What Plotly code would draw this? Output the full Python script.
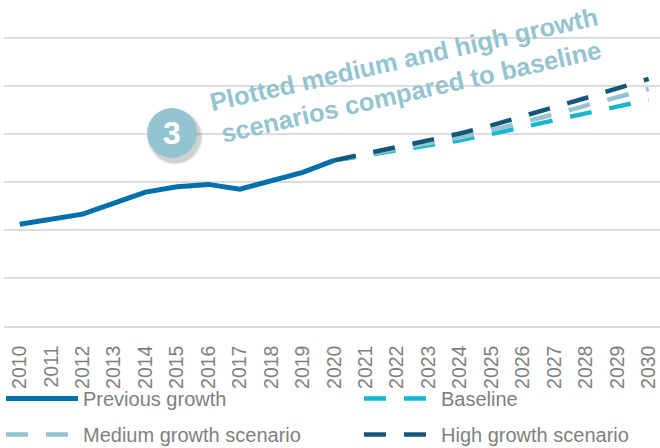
import plotly.graph_objects as go

# Years on the x axis
hist_years = list(range(2010, 2021))
proj_years = list(range(2020, 2031))

# Series values
previous_growth = [21.2, 22.3, 23.3, 25.6, 27.9, 29.0, 29.5, 28.5, 30.3, 32.0, 34.5]
baseline = [34.5, 35.5, 36.5, 37.6, 38.7, 40.0, 41.5, 43.0, 44.3, 45.7, 47.1]
medium_growth = [34.5, 35.7, 36.9, 38.1, 39.3, 40.8, 42.4, 44.1, 45.9, 47.6, 49.4]
high_growth = [34.5, 35.9, 37.2, 38.6, 40.1, 41.8, 43.6, 45.6, 47.5, 49.4, 51.5]

tick_years = list(range(2010, 2031))

FONT = "Liberation Sans, Arial, sans-serif"
GREY = "#7f7f7f"
DASH = "22px,18px"

W, H = 660, 448
ML, MR, MT, MB = 4, 0, 31, 122
plot_w = W - ML - MR
plot_h = H - MT - MB
Y_TOP = plot_h / 4.8  # 4.8 px per unit, so 60 lands on the top gridline


def px_to_paper(px, py):
    return (px - ML) / plot_w, (H - MB - py) / plot_h


fig = go.Figure()

fig.add_trace(go.Scatter(
    x=hist_years, y=previous_growth, name="Previous growth", mode="lines",
    line=dict(color="#0070ad", width=5), legend="legend", legendgroup="a",
))
fig.add_trace(go.Scatter(
    x=proj_years, y=baseline, name="Baseline", mode="lines",
    line=dict(color="#15b7d1", width=4.5, dash=DASH), legend="legend2", legendgroup="c",
))
fig.add_trace(go.Scatter(
    x=proj_years, y=medium_growth, name="Medium growth scenario", mode="lines",
    line=dict(color="#94c4d0", width=4.5, dash=DASH), legend="legend", legendgroup="b",
))
fig.add_trace(go.Scatter(
    x=proj_years, y=high_growth, name="High growth scenario", mode="lines",
    line=dict(color="#15577a", width=4.5, dash=DASH), legend="legend2", legendgroup="d",
))

# Numbered badge with a soft drop shadow
cx, cy = px_to_paper(172, 133)
for r, op in [(28, 0.06), (27, 0.08), (26, 0.12)]:
    fig.add_shape(
        type="circle", xref="paper", yref="paper", xsizemode="pixel", ysizemode="pixel",
        xanchor=cx, yanchor=cy, x0=-r + 3, x1=r + 3, y0=-r - 4, y1=r - 4,
        fillcolor=f"rgba(60,60,60,{op})", line=dict(width=0), layer="above",
    )
fig.add_shape(
    type="circle", xref="paper", yref="paper", xsizemode="pixel", ysizemode="pixel",
    xanchor=cx, yanchor=cy, x0=-25, x1=25, y0=-25, y1=25,
    fillcolor="#94c4d0", line=dict(width=0), layer="above",
)
fig.add_annotation(
    x=cx, y=cy, xref="paper", yref="paper", text="<b>3</b>", showarrow=False,
    font=dict(family=FONT, size=32, color="white"), xanchor="center", yanchor="middle",
)

tx, ty = px_to_paper(407, 75)
fig.add_annotation(
    x=tx, y=ty, xref="paper", yref="paper",
    text="<b>Plotted medium and high growth<br>scenarios compared to baseline</b>",
    showarrow=False, textangle=-12.6, align="center",
    font=dict(family=FONT, size=25.5, color="#94c4d0"),
    xanchor="center", yanchor="middle",
)

legend_style = dict(
    orientation="v", xanchor="left", yanchor="top", bgcolor="rgba(0,0,0,0)",
    xref="container", yref="container",
    font=dict(family=FONT, size=20, color=GREY), itemwidth=72,
    tracegroupgap=7, traceorder="grouped",
)
leg_y = 1 - 379 / H

fig.update_layout(
    width=W, height=H,
    margin=dict(l=ML, r=MR, t=MT, b=MB, autoexpand=False),
    paper_bgcolor="white", plot_bgcolor="white",
    font=dict(family=FONT, color=GREY),
    showlegend=True,
    legend=dict(x=1 / W, y=leg_y, **legend_style),
    legend2=dict(x=359 / W, y=leg_y, **legend_style),
    xaxis=dict(
        range=[2009.5, 2030.36], tickmode="array", tickvals=tick_years,
        ticktext=[str(y) for y in tick_years], tickangle=-90,
        tickfont=dict(family=FONT, size=19.5, color=GREY),
        showgrid=False, zeroline=False, showline=True, linecolor="#d9d9d9", linewidth=1.5,
        ticks="", ticklabelstandoff=10, fixedrange=True, automargin=False,
    ),
    yaxis=dict(
        range=[0, Y_TOP], tickmode="array", tickvals=[10, 20, 30, 40, 50, 60],
        showticklabels=False, showgrid=True, automargin=False,
        gridcolor="#dcdcdc", gridwidth=1.5, zeroline=False, ticks="", fixedrange=True,
    ),
)

fig.write_html("out.html")
